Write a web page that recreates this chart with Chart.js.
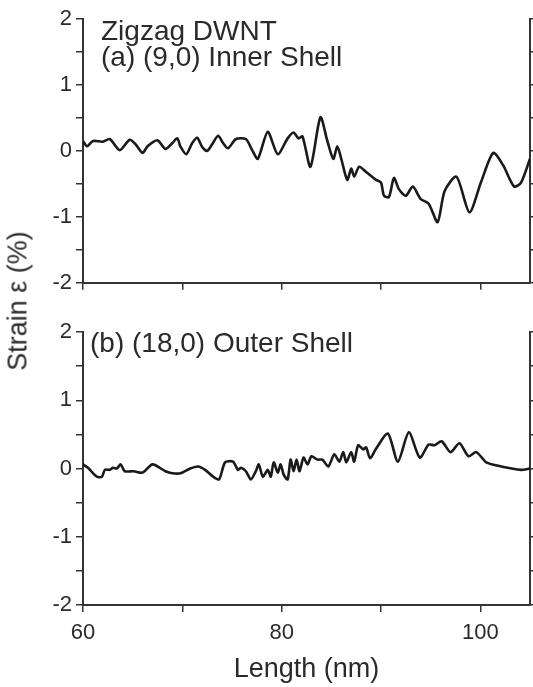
<!DOCTYPE html>
<html lang="en">
<head>
    <meta charset="UTF-8">
    <title>Zigzag DWNT strain</title>
    <script src="https://cdn.jsdelivr.net/npm/chart.js"></script>
    <style>
        body {
            margin: 0;
            background: #fff;
            font-family: "Liberation Sans", Arial, sans-serif;
        }
        .figure {
            position: relative;
            width: 533px;
            height: 687px;
        }
        .panel {
            position: absolute;
            left: 0;
        }
        .y-title {
            position: absolute;
            left: 18px;
            top: 301px;
            transform: translate(-50%, -50%) rotate(-90deg);
            white-space: nowrap;
            font-size: 27px;
            color: #2a2a2a;
        }
    </style>
</head>
<body>
    <div class="figure">
        <canvas id="innerChart" class="panel" style="top:0" width="533" height="300"></canvas>
        <canvas id="outerChart" class="panel" style="top:300px" width="533" height="387"></canvas>
        <div class="y-title">Strain ε (%)</div>
    </div>

    <script>
        // (a) inner shell (9,0): strain along the tube
        const innerLength = [60.0, 60.4, 61.0, 62.0, 62.7, 63.7, 64.7, 65.3, 66.0, 66.5, 67.5, 68.3, 69.0, 69.5, 69.8,
            70.4, 71.0, 71.5, 72.0, 72.5, 73.0, 73.6, 74.1, 74.6, 75.4, 76.4, 77.0, 77.6, 78.6, 79.6, 80.6, 81.2, 81.7,
            82.1, 82.9, 83.9, 84.6, 85.2, 85.6, 86.0, 86.6, 87.0, 87.3, 87.8, 88.5, 89.5, 90.0, 90.3, 90.8, 91.3,
            91.8, 92.5, 93.2, 94.0, 94.8, 95.7, 96.4, 97.6, 98.9, 100.1, 101.3, 102.3, 103.4, 104.1, 105.0];
        const innerStrain = [0.15, 0.07, 0.15, 0.14, 0.18, 0.01, 0.17, 0.10, -0.03, 0.07, 0.16, 0.03, 0.12, 0.19, 0.07,
            -0.05, 0.12, 0.20, 0.06, 0.00, 0.10, 0.23, 0.12, 0.04, 0.18, 0.18, 0.02, -0.12, 0.29, -0.05, 0.19, 0.28, 0.19,
            0.22, -0.24, 0.51, 0.15, -0.12, 0.07, -0.12, -0.44, -0.27, -0.39, -0.24, -0.32, -0.44, -0.48, -0.68, -0.70, -0.41,
            -0.58, -0.68, -0.54, -0.73, -0.80, -1.08, -0.61, -0.39, -0.93, -0.46, -0.03, -0.22, -0.54, -0.48, -0.12];

        // (b) outer shell (18,0)
        const outerLength = [60.0, 60.5, 61.4, 61.9, 62.2, 62.7, 63.0, 63.4, 63.8, 64.2, 65.1, 66.0, 67.0, 68.3, 69.0,
            69.8, 70.8, 71.6, 72.3, 73.1, 73.7, 74.3, 75.1, 75.6, 75.9, 76.4, 76.9, 77.4, 77.7, 78.1, 78.6, 78.9, 79.2,
            79.6, 79.9, 80.2, 80.6, 80.9, 81.2, 81.5, 81.8, 82.2, 82.6, 83.0, 83.6, 84.1, 84.7, 85.3, 85.8, 86.2, 86.5,
            87.0, 87.3, 87.7, 88.2, 88.5, 88.9, 89.5, 90.7, 91.7, 92.8, 93.9, 94.8, 95.4, 96.1, 97.0, 97.9, 98.8, 99.6,
            100.6, 102.1, 104.1, 105.0];
        const outerStrain = [0.06, 0.01, -0.12, -0.12, -0.02, -0.02, 0.01, 0.00, 0.06, -0.04, -0.04, -0.06, 0.06, -0.04, -0.07,
            -0.07, 0.00, 0.03, -0.02, -0.12, -0.16, 0.09, 0.10, -0.02, 0.01, -0.04, -0.16, -0.04, 0.06, -0.12, -0.02, -0.12, 0.09,
            -0.06, 0.06, -0.09, -0.16, 0.13, -0.04, 0.13, -0.04, 0.16, 0.06, 0.18, 0.13, 0.13, 0.03, 0.21, 0.10, 0.24, 0.09,
            0.24, 0.10, 0.34, 0.28, 0.31, 0.15, 0.29, 0.51, 0.10, 0.53, 0.16, 0.35, 0.34, 0.40, 0.24, 0.37, 0.18, 0.24,
            0.09, 0.03, -0.02, 0.00];

        const xLabelTicks = [60, 80, 100];
        const yLabelTicks = [-2, -1, 0, 1, 2];

        const ink = '#1a1a1a';
        const axisInk = '#333';
        const textInk = '#2a2a2a';
        const fontFamily = '"Liberation Sans", Arial, sans-serif';

        // panel captions drawn inside the plot area
        const captionPlugin = {
            id: 'caption',
            afterDraw(chart, args, opts) {
                const ctx = chart.ctx;
                ctx.save();
                ctx.fillStyle = textInk;
                ctx.font = `28px ${fontFamily}`;
                ctx.textBaseline = 'alphabetic';
                opts.lines.forEach(l => ctx.fillText(l.text, l.x, l.y));
                ctx.restore();
            }
        };

        function toPoints(xs, ys) {
            return xs.map((x, i) => ({ x: x, y: ys[i] }));
        }

        function makePanel(canvasId, xs, ys, opts) {
            const ctx = document.getElementById(canvasId).getContext('2d');
            const axisGrid = {
                drawOnChartArea: false,
                drawTicks: true,
                tickLength: 7,
                color: axisInk,
                lineWidth: 1.5
            };
            const axisBorder = { display: true, color: axisInk, width: 2 };
            return new Chart(ctx, {
                type: 'line',
                data: {
                    datasets: [{
                        data: toPoints(xs, ys),
                        borderColor: ink,
                        borderWidth: 2.6,
                        pointRadius: 0,
                        tension: 0.25,
                        fill: false
                    }]
                },
                options: {
                    responsive: false,
                    animation: false,
                    layout: { padding: { top: opts.padTop, right: 0, left: 0, bottom: 0 } },
                    plugins: {
                        legend: { display: false },
                        tooltip: { enabled: false },
                        caption: { lines: opts.captions }
                    },
                    scales: {
                        x: {
                            type: 'linear',
                            min: 60,
                            max: 105,
                            grid: axisGrid,
                            border: axisBorder,
                            ticks: {
                                display: opts.showX,
                                stepSize: 10,
                                includeBounds: false,
                                maxRotation: 0,
                                padding: 8,
                                color: textInk,
                                font: { family: fontFamily, size: 22 },
                                callback: v => xLabelTicks.includes(v) ? String(v) : ''
                            },
                            title: {
                                display: opts.showX,
                                text: 'Length (nm)',
                                color: textInk,
                                font: { family: fontFamily, size: 27 },
                                padding: { top: 0, bottom: 1 }
                            },
                            afterFit: s => { s.height = opts.xHeight; }
                        },
                        y: {
                            min: -2,
                            max: 2,
                            grid: axisGrid,
                            border: axisBorder,
                            ticks: {
                                stepSize: 0.5,
                                padding: 4,
                                color: textInk,
                                font: { family: fontFamily, size: 22 },
                                callback: v => yLabelTicks.includes(v) ? String(v) : ''
                            },
                            afterFit: s => { s.width = 83; }
                        },
                        yRight: {
                            position: 'right',
                            min: -2,
                            max: 2,
                            grid: { drawOnChartArea: false, tickLength: 3, color: axisInk, lineWidth: 1.5 },
                            border: axisBorder,
                            ticks: { display: false, stepSize: 0.5 },
                            afterFit: s => { s.width = 3; }
                        }
                    }
                },
                plugins: [captionPlugin]
            });
        }

        makePanel('innerChart', innerLength, innerStrain, {
            padTop: 19,
            xHeight: 7,
            showX: false,
            captions: [
                { text: 'Zigzag DWNT', x: 101, y: 40 },
                { text: '(a) (9,0) Inner Shell', x: 101, y: 66 }
            ]
        });

        makePanel('outerChart', outerLength, outerStrain, {
            padTop: 32,
            xHeight: 82,
            showX: true,
            captions: [
                { text: '(b) (18,0) Outer Shell', x: 90, y: 52 }
            ]
        });
    </script>
</body>
</html>
